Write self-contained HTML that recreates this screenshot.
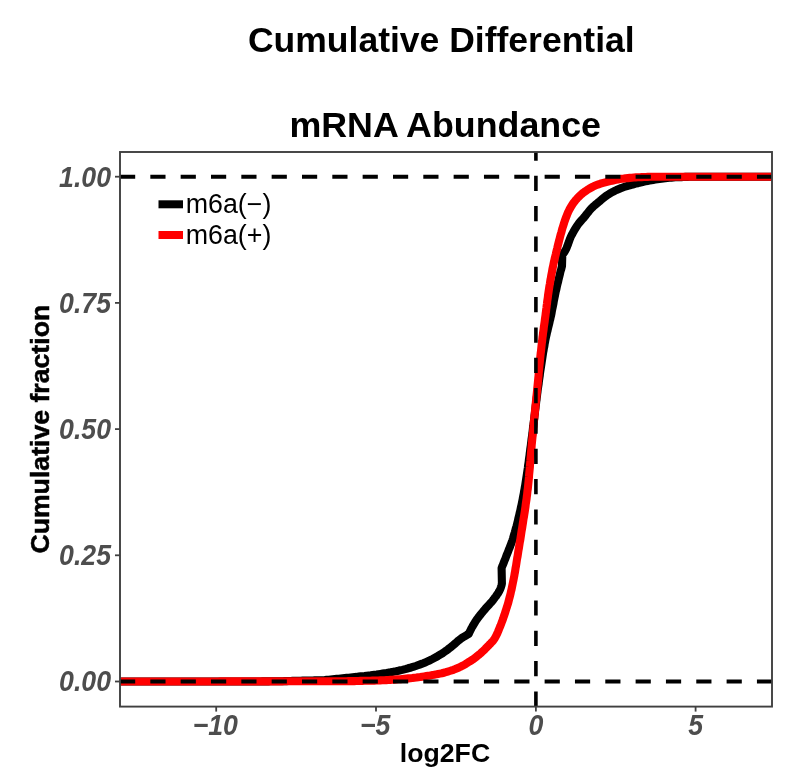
<!DOCTYPE html>
<html><head><meta charset="utf-8"><title>Cumulative Differential mRNA Abundance</title>
<style>
html,body{margin:0;padding:0;background:#fff;}
svg{display:block;}
text{font-family:"Liberation Sans",Arial,Helvetica,sans-serif;}
.ttl{font-weight:bold;font-size:35.5px;fill:#000;text-anchor:middle;}
.axt{font-weight:bold;font-size:26.67px;fill:#000;text-anchor:middle;}
.tk{font-weight:bold;font-style:italic;font-size:26.67px;fill:#4d4d4d;}
.lg{font-size:26.8px;fill:#000;}
</style></head><body>
<svg width="800" height="783" viewBox="0 0 800 783">
<rect x="0" y="0" width="800" height="783" fill="#fff"/>
<text class="ttl" x="441.3" y="51.6">Cumulative Differential</text>
<text class="ttl" x="445.2" y="137.2" style="font-size:35.8px">mRNA Abundance</text>
<clipPath id="cp"><rect x="120" y="152.0" width="652" height="554.6"/></clipPath>
<g clip-path="url(#cp)" fill="none">
<path d="M120.0,681.5 L122.0,681.5 L124.0,681.5 L126.0,681.5 L128.0,681.5 L130.0,681.5 L132.0,681.5 L134.1,681.5 L136.1,681.5 L138.1,681.5 L140.1,681.5 L142.1,681.5 L144.1,681.5 L146.1,681.5 L148.1,681.5 L150.1,681.5 L152.1,681.5 L154.1,681.5 L156.1,681.5 L158.1,681.5 L160.1,681.5 L162.2,681.5 L164.2,681.5 L166.2,681.5 L168.2,681.5 L170.2,681.5 L172.2,681.5 L174.2,681.5 L176.2,681.5 L178.2,681.5 L180.2,681.5 L182.2,681.5 L184.2,681.5 L186.2,681.5 L188.3,681.5 L190.3,681.5 L192.3,681.5 L194.3,681.5 L196.3,681.5 L198.3,681.5 L200.3,681.5 L202.3,681.5 L204.3,681.5 L206.3,681.5 L208.3,681.5 L210.3,681.5 L212.3,681.5 L214.3,681.5 L216.4,681.5 L218.4,681.5 L220.4,681.5 L222.4,681.5 L224.4,681.5 L226.4,681.5 L228.4,681.5 L230.4,681.5 L232.4,681.5 L234.4,681.5 L236.4,681.5 L238.4,681.5 L240.4,681.5 L242.4,681.5 L244.5,681.5 L246.5,681.5 L248.5,681.5 L250.5,681.5 L252.5,681.5 L254.5,681.5 L256.5,681.5 L258.5,681.5 L260.5,681.5 L262.5,681.4 L264.5,681.4 L266.5,681.4 L268.5,681.4 L270.6,681.3 L272.6,681.3 L274.6,681.3 L276.6,681.3 L278.6,681.2 L280.6,681.2 L282.6,681.2 L284.6,681.1 L286.6,681.1 L288.6,681.0 L290.6,681.0 L292.6,680.9 L294.6,680.8 L296.6,680.8 L298.6,680.7 L300.7,680.7 L302.7,680.6 L304.7,680.6 L306.7,680.6 L308.7,680.5 L310.7,680.5 L312.7,680.5 L314.7,680.4 L316.7,680.4 L318.7,680.3 L320.7,680.3 L322.7,680.2 L324.7,680.1 L326.7,679.9 L328.7,679.7 L330.7,679.5 L332.7,679.3 L334.7,679.1 L336.7,678.9 L338.7,678.7 L340.7,678.5 L342.7,678.3 L344.7,678.1 L346.7,677.9 L348.7,677.7 L350.7,677.5 L352.7,677.3 L354.7,677.1 L356.7,676.9 L358.7,676.6 L360.7,676.4 L362.7,676.2 L364.7,676.0 L366.7,675.7 L368.7,675.5 L370.7,675.3 L372.7,675.0 L374.6,674.7 L376.6,674.5 L378.6,674.2 L380.6,673.9 L382.6,673.6 L384.6,673.3 L386.6,673.0 L388.5,672.6 L390.5,672.3 L392.5,671.9 L394.5,671.6 L396.4,671.2 L398.4,670.8 L400.4,670.3 L402.3,669.9 L404.3,669.4 L406.2,668.9 L408.1,668.3 L410.1,667.8 L412.0,667.2 L413.9,666.6 L415.8,666.0 L417.7,665.3 L419.6,664.6 L421.5,663.9 L423.3,663.2 L425.2,662.4 L427.0,661.6 L428.9,660.8 L430.7,659.9 L432.5,659.0 L434.3,658.0 L436.0,657.1 L437.8,656.1 L439.5,655.1 L441.2,654.1 L442.9,653.0 L444.6,651.8 L446.2,650.7 L447.8,649.5 L449.4,648.2 L451.0,647.0 L452.6,645.7 L454.1,644.4 L455.6,643.1 L457.1,641.7 L458.6,640.4 L460.2,639.2 L461.8,638.0 L463.5,636.9 L465.2,635.9 L466.9,634.9 L468.7,633.9 L469.6,632.0 L470.5,630.2 L471.4,628.4 L472.4,626.6 L473.4,624.9 L474.5,623.1 L475.5,621.4 L476.6,619.7 L477.8,618.1 L479.0,616.5 L480.3,614.9 L481.6,613.3 L482.9,611.7 L484.2,610.2 L485.5,608.6 L486.9,607.1 L488.3,605.6 L489.6,604.1 L491.0,602.6 L492.3,601.1 L493.5,599.5 L494.7,597.8 L496.0,596.2 L497.1,594.5 L498.3,592.8 L499.3,591.0 L500.2,589.2 L500.9,587.3 L501.5,585.4 L501.9,583.4 L501.6,568.1 L502.3,566.2 L503.1,564.4 L503.8,562.5 L504.5,560.6 L505.3,558.8 L506.0,556.9 L506.7,555.0 L507.5,553.2 L508.2,551.3 L508.9,549.4 L509.7,547.6 L510.4,545.7 L511.1,543.8 L511.8,541.9 L512.5,540.1 L513.1,538.1 L513.6,536.2 L514.2,534.3 L514.8,532.4 L515.3,530.5 L515.8,528.5 L516.4,526.6 L516.9,524.7 L517.4,522.7 L517.9,520.8 L518.3,518.8 L518.8,516.8 L519.3,514.9 L519.7,512.9 L520.2,511.0 L520.6,509.0 L521.0,507.0 L521.5,505.1 L521.9,503.1 L522.3,501.1 L522.7,499.2 L523.0,497.2 L523.4,495.2 L523.8,493.3 L524.1,491.3 L524.5,489.3 L524.8,487.3 L525.2,485.4 L525.5,483.4 L525.8,481.4 L526.1,479.4 L526.4,477.5 L526.7,475.5 L527.0,473.5 L527.3,471.5 L527.6,469.5 L527.9,467.5 L528.1,465.5 L528.4,463.6 L528.7,461.6 L528.9,459.6 L529.2,457.6 L529.5,455.6 L529.7,453.6 L530.0,451.6 L530.2,449.6 L530.5,447.6 L530.8,445.6 L531.0,443.6 L531.3,441.7 L531.5,439.7 L531.8,437.7 L532.1,435.7 L532.3,433.7 L532.6,431.7 L532.8,429.7 L533.0,427.7 L533.3,425.7 L533.5,423.8 L533.8,421.8 L534.0,419.8 L534.3,417.8 L534.5,415.8 L534.8,413.8 L535.0,411.8 L535.2,409.8 L535.5,407.8 L535.7,405.8 L536.0,403.8 L536.2,401.8 L536.5,399.9 L536.7,397.9 L537.0,395.9 L537.2,393.9 L537.5,391.9 L537.7,389.9 L538.0,387.9 L538.3,385.9 L538.6,384.0 L538.8,382.0 L539.1,380.0 L539.4,378.0 L539.7,376.0 L539.9,374.0 L540.2,372.0 L540.5,370.0 L540.8,368.1 L541.1,366.1 L541.4,364.1 L541.7,362.1 L542.0,360.1 L542.3,358.1 L542.6,356.1 L542.9,354.2 L543.2,352.2 L543.6,350.2 L543.9,348.2 L544.3,346.3 L544.6,344.3 L545.0,342.3 L545.3,340.4 L545.7,338.4 L546.1,336.4 L546.6,334.5 L547.0,332.5 L547.5,330.6 L547.9,328.6 L548.4,326.7 L548.9,324.7 L549.4,322.8 L549.8,320.8 L550.3,318.9 L550.7,316.9 L551.2,314.9 L551.6,313.0 L551.9,311.0 L552.3,309.0 L552.7,307.1 L553.1,305.1 L553.5,303.1 L553.8,301.2 L554.2,299.2 L554.6,297.2 L555.0,295.3 L555.4,293.3 L555.8,291.3 L556.3,289.4 L556.7,287.4 L557.1,285.5 L557.6,283.5 L558.1,281.6 L558.5,279.6 L559.0,277.7 L559.5,275.7 L560.0,273.8 L560.4,271.8 L561.0,269.9 L561.5,267.9 L562.0,266.0 L562.3,255.0 L563.5,253.4 L564.6,251.7 L565.6,250.0 L566.5,248.2 L567.2,246.3 L568.0,244.4 L568.6,242.5 L569.3,240.6 L570.0,238.7 L570.8,236.8 L571.7,235.0 L572.6,233.3 L573.6,231.5 L574.6,229.7 L575.7,228.0 L576.8,226.3 L577.9,224.6 L579.1,223.0 L580.4,221.5 L581.7,220.0 L583.1,218.5 L584.4,217.0 L585.7,215.4 L586.9,213.8 L588.2,212.2 L589.4,210.6 L590.7,209.1 L592.1,207.7 L593.6,206.3 L595.1,205.0 L596.7,203.7 L598.2,202.4 L599.8,201.1 L601.3,199.8 L602.8,198.4 L604.4,197.2 L606.0,196.0 L607.7,194.9 L609.4,193.8 L611.1,192.8 L612.9,191.8 L614.7,190.9 L616.5,190.0 L618.3,189.2 L620.2,188.4 L622.1,187.7 L624.0,187.0 L625.9,186.4 L627.8,185.8 L629.8,185.3 L631.7,184.7 L633.7,184.2 L635.6,183.7 L637.6,183.2 L639.5,182.7 L641.5,182.3 L643.4,181.8 L645.4,181.4 L647.4,181.0 L649.4,180.6 L651.3,180.2 L653.3,179.9 L655.3,179.6 L657.3,179.3 L659.3,179.0 L661.3,178.7 L663.3,178.4 L665.3,178.2 L667.3,178.0 L669.3,177.8 L671.3,177.7 L673.3,177.5 L675.3,177.3 L677.3,177.2 L679.3,177.1 L681.4,177.1 L683.4,177.0 L685.4,176.9 L687.4,176.9 L689.4,176.8 L691.4,176.8 L693.4,176.8 L695.5,176.7 L697.5,176.7 L699.5,176.7 L701.5,176.7 L703.5,176.7 L705.5,176.7 L707.5,176.7 L709.6,176.7 L711.6,176.7 L713.6,176.7 L715.6,176.7 L717.6,176.7 L719.6,176.7 L721.6,176.7 L723.7,176.7 L725.7,176.7 L727.7,176.7 L729.7,176.7 L731.7,176.7 L733.7,176.7 L735.7,176.7 L737.8,176.7 L739.8,176.7 L741.8,176.7 L743.8,176.7 L745.8,176.7 L747.8,176.7 L749.8,176.7 L751.9,176.7 L753.9,176.7 L755.9,176.7 L757.9,176.7 L759.9,176.7 L761.9,176.7 L763.9,176.7 L766.0,176.7 L768.0,176.7 L770.0,176.7 L772.0,176.7" stroke="#000" stroke-width="8.1" stroke-linejoin="round"/>
<path d="M120.0,681.5 L122.0,681.5 L124.0,681.5 L126.0,681.5 L128.0,681.5 L130.0,681.5 L132.0,681.5 L134.0,681.5 L136.0,681.5 L138.0,681.5 L140.0,681.5 L142.0,681.5 L144.0,681.5 L146.0,681.5 L148.0,681.5 L150.0,681.5 L152.0,681.5 L154.1,681.5 L156.1,681.5 L158.1,681.5 L160.1,681.5 L162.1,681.5 L164.1,681.5 L166.1,681.5 L168.1,681.5 L170.1,681.5 L172.1,681.5 L174.1,681.5 L176.1,681.5 L178.1,681.5 L180.1,681.5 L182.1,681.5 L184.1,681.5 L186.1,681.5 L188.1,681.5 L190.1,681.5 L192.1,681.5 L194.1,681.5 L196.1,681.5 L198.1,681.5 L200.1,681.5 L202.1,681.5 L204.1,681.5 L206.1,681.5 L208.1,681.5 L210.1,681.5 L212.1,681.5 L214.1,681.5 L216.1,681.5 L218.1,681.5 L220.1,681.4 L222.1,681.4 L224.1,681.4 L226.2,681.4 L228.2,681.4 L230.2,681.4 L232.2,681.4 L234.2,681.4 L236.2,681.4 L238.2,681.4 L240.2,681.4 L242.2,681.4 L244.2,681.4 L246.2,681.4 L248.2,681.4 L250.2,681.4 L252.2,681.4 L254.2,681.4 L256.2,681.4 L258.2,681.4 L260.2,681.4 L262.2,681.4 L264.2,681.4 L266.2,681.4 L268.2,681.4 L270.2,681.4 L272.2,681.4 L274.2,681.4 L276.2,681.4 L278.2,681.4 L280.2,681.4 L282.2,681.4 L284.2,681.3 L286.2,681.3 L288.2,681.3 L290.2,681.3 L292.2,681.3 L294.2,681.3 L296.2,681.3 L298.2,681.3 L300.2,681.3 L302.3,681.3 L304.3,681.3 L306.3,681.3 L308.3,681.3 L310.3,681.3 L312.3,681.3 L314.3,681.3 L316.3,681.3 L318.3,681.3 L320.3,681.3 L322.3,681.3 L324.3,681.2 L326.3,681.2 L328.3,681.2 L330.3,681.2 L332.3,681.2 L334.3,681.2 L336.3,681.2 L338.3,681.2 L340.3,681.2 L342.3,681.2 L344.3,681.2 L346.3,681.2 L348.3,681.1 L350.3,681.1 L352.3,681.1 L354.3,681.1 L356.3,681.0 L358.3,681.0 L360.3,680.9 L362.3,680.9 L364.3,680.8 L366.3,680.8 L368.3,680.7 L370.3,680.7 L372.3,680.6 L374.3,680.6 L376.3,680.5 L378.3,680.5 L380.3,680.4 L382.3,680.3 L384.3,680.2 L386.3,680.1 L388.3,680.0 L390.3,679.9 L392.3,679.8 L394.3,679.6 L396.3,679.5 L398.3,679.3 L400.3,679.2 L402.3,679.0 L404.3,678.8 L406.3,678.6 L408.3,678.4 L410.3,678.2 L412.3,678.0 L414.3,677.7 L416.3,677.5 L418.3,677.2 L420.2,677.0 L422.2,676.7 L424.2,676.4 L426.2,676.1 L428.2,675.8 L430.2,675.5 L432.1,675.1 L434.1,674.8 L436.1,674.4 L438.0,674.0 L440.0,673.6 L441.9,673.2 L443.9,672.7 L445.8,672.2 L447.8,671.6 L449.7,671.0 L451.6,670.4 L453.5,669.8 L455.3,669.1 L457.2,668.3 L459.0,667.5 L460.8,666.6 L462.6,665.7 L464.4,664.7 L466.1,663.7 L467.8,662.6 L469.5,661.6 L471.2,660.5 L472.9,659.4 L474.5,658.2 L476.1,657.0 L477.7,655.7 L479.2,654.5 L480.7,653.2 L482.2,651.8 L483.7,650.5 L485.1,649.1 L486.5,647.6 L487.9,646.2 L489.3,644.7 L490.7,643.3 L492.1,641.8 L493.4,640.3 L494.5,638.7 L495.5,637.0 L496.4,635.2 L497.3,633.4 L498.1,631.5 L498.8,629.7 L499.6,627.8 L500.4,625.9 L501.1,624.1 L501.8,622.2 L502.5,620.3 L503.2,618.4 L503.8,616.5 L504.5,614.6 L505.1,612.7 L505.7,610.8 L506.3,608.9 L506.9,607.0 L507.5,605.1 L508.1,603.2 L508.6,601.2 L509.1,599.3 L509.6,597.4 L510.1,595.4 L510.6,593.5 L511.0,591.5 L511.5,589.6 L511.9,587.6 L512.3,585.7 L512.7,583.7 L513.1,581.7 L513.5,579.8 L513.9,577.8 L514.3,575.8 L514.6,573.9 L515.0,571.9 L515.3,569.9 L515.6,567.9 L516.0,566.0 L516.3,564.0 L516.6,562.0 L516.9,560.0 L517.2,558.1 L517.6,556.1 L517.9,554.1 L518.2,552.1 L518.5,550.1 L518.9,548.2 L519.2,546.2 L519.5,544.2 L519.8,542.2 L520.2,540.3 L520.5,538.3 L520.8,536.3 L521.1,534.3 L521.4,532.4 L521.7,530.4 L522.1,528.4 L522.4,526.4 L522.7,524.4 L523.0,522.5 L523.3,520.5 L523.6,518.5 L524.0,516.5 L524.3,514.5 L524.6,512.6 L524.9,510.6 L525.2,508.6 L525.5,506.6 L525.7,504.6 L526.0,502.7 L526.3,500.7 L526.6,498.7 L526.8,496.7 L527.1,494.7 L527.3,492.7 L527.5,490.7 L527.8,488.8 L528.0,486.8 L528.2,484.8 L528.4,482.8 L528.6,480.8 L528.8,478.8 L529.0,476.8 L529.1,474.8 L529.3,472.8 L529.5,470.8 L529.7,468.8 L529.9,466.8 L530.0,464.8 L530.2,462.8 L530.4,460.8 L530.5,458.9 L530.7,456.9 L530.9,454.9 L531.0,452.9 L531.2,450.9 L531.4,448.9 L531.6,446.9 L531.7,444.9 L531.9,442.9 L532.1,440.9 L532.3,438.9 L532.5,436.9 L532.7,434.9 L532.9,432.9 L533.1,430.9 L533.3,428.9 L533.5,426.9 L533.6,424.9 L533.8,422.9 L534.0,421.0 L534.2,419.0 L534.4,417.0 L534.6,415.0 L534.8,413.0 L535.0,411.0 L535.2,409.0 L535.4,407.0 L535.6,405.0 L535.8,403.0 L536.0,401.0 L536.2,399.0 L536.4,397.0 L536.6,395.0 L536.8,393.1 L537.0,391.1 L537.2,389.1 L537.4,387.1 L537.6,385.1 L537.8,383.1 L538.0,381.1 L538.2,379.1 L538.4,377.1 L538.6,375.1 L538.7,373.1 L538.9,371.1 L539.1,369.1 L539.3,367.1 L539.5,365.1 L539.7,363.2 L539.9,361.2 L540.1,359.2 L540.3,357.2 L540.5,355.2 L540.7,353.2 L541.0,351.2 L541.2,349.2 L541.4,347.2 L541.6,345.2 L541.8,343.2 L542.1,341.2 L542.3,339.3 L542.5,337.3 L542.8,335.3 L543.0,333.3 L543.3,331.3 L543.6,329.3 L543.8,327.3 L544.1,325.4 L544.4,323.4 L544.7,321.4 L544.9,319.4 L545.2,317.4 L545.5,315.4 L545.7,313.4 L546.0,311.5 L546.2,309.5 L546.5,307.5 L546.7,305.5 L547.0,303.5 L547.2,301.5 L547.5,299.5 L547.8,297.6 L548.0,295.6 L548.3,293.6 L548.6,291.6 L548.9,289.6 L549.2,287.7 L549.5,285.7 L549.9,283.7 L550.2,281.7 L550.5,279.7 L550.9,277.8 L551.2,275.8 L551.6,273.8 L552.0,271.9 L552.3,269.9 L552.7,267.9 L553.1,266.0 L553.5,264.0 L553.9,262.0 L554.4,260.1 L554.8,258.1 L555.3,256.2 L555.8,254.2 L556.2,252.3 L556.7,250.4 L557.2,248.4 L557.6,246.5 L558.1,244.5 L558.6,242.6 L559.1,240.6 L559.6,238.7 L560.1,236.8 L560.6,234.8 L561.2,232.9 L561.7,231.0 L562.2,229.0 L562.8,227.1 L563.4,225.2 L564.0,223.3 L564.6,221.4 L565.3,219.4 L566.0,217.5 L566.7,215.7 L567.4,213.8 L568.2,212.0 L569.1,210.2 L570.0,208.5 L571.0,206.7 L572.1,205.0 L573.2,203.3 L574.4,201.7 L575.7,200.1 L577.0,198.7 L578.3,197.2 L579.8,195.8 L581.3,194.4 L582.8,193.1 L584.4,191.9 L586.0,190.8 L587.7,189.7 L589.4,188.6 L591.2,187.6 L593.0,186.6 L594.8,185.8 L596.6,185.1 L598.5,184.4 L600.4,183.7 L602.3,183.1 L604.2,182.6 L606.2,182.1 L608.1,181.6 L610.1,181.1 L612.0,180.7 L614.0,180.2 L616.0,179.8 L617.9,179.5 L619.9,179.1 L621.9,178.8 L623.9,178.6 L625.8,178.3 L627.8,178.1 L629.8,177.9 L631.8,177.7 L633.8,177.5 L635.8,177.4 L637.8,177.3 L639.8,177.2 L641.8,177.1 L643.8,177.0 L645.8,177.0 L647.8,176.9 L649.8,176.8 L651.8,176.8 L653.8,176.8 L655.8,176.7 L657.8,176.7 L659.8,176.7 L661.9,176.7 L663.9,176.7 L665.9,176.7 L667.9,176.7 L669.9,176.7 L671.9,176.7 L673.9,176.7 L675.9,176.7 L677.9,176.7 L679.9,176.7 L681.9,176.7 L683.9,176.7 L685.9,176.7 L687.9,176.7 L689.9,176.7 L691.9,176.7 L693.9,176.7 L695.9,176.7 L697.9,176.7 L699.9,176.7 L701.9,176.7 L703.9,176.7 L705.9,176.7 L707.9,176.7 L709.9,176.7 L711.9,176.7 L713.9,176.7 L715.9,176.7 L717.9,176.7 L719.9,176.7 L721.9,176.7 L723.9,176.7 L725.9,176.7 L727.9,176.7 L729.9,176.7 L731.9,176.7 L733.9,176.7 L736.0,176.7 L738.0,176.7 L740.0,176.7 L742.0,176.7 L744.0,176.7 L746.0,176.7 L748.0,176.7 L750.0,176.7 L752.0,176.7 L754.0,176.7 L756.0,176.7 L758.0,176.7 L760.0,176.7 L762.0,176.7 L764.0,176.7 L766.0,176.7 L768.0,176.7 L770.0,176.7 L772.0,176.7" stroke="#ff0000" stroke-width="8.1" stroke-linejoin="round"/>
<line x1="120" y1="176.7" x2="772" y2="176.7" stroke="#000" stroke-width="3.9" stroke-dasharray="15.2 15.13"/>
<line x1="120" y1="681.5" x2="772" y2="681.5" stroke="#000" stroke-width="3.9" stroke-dasharray="15.2 15.13"/>
<line x1="535.9" y1="706.6" x2="535.9" y2="152.0" stroke="#000" stroke-width="3.6" stroke-dasharray="15.2 15.13"/>
</g>
<rect x="120" y="152.0" width="652" height="554.6" fill="none" stroke="#404040" stroke-width="1.9"/>
<g stroke="#404040" stroke-width="1.8">
<line x1="115" y1="176.7" x2="120" y2="176.7"/>
<line x1="115" y1="302.9" x2="120" y2="302.9"/>
<line x1="115" y1="429.1" x2="120" y2="429.1"/>
<line x1="115" y1="555.3" x2="120" y2="555.3"/>
<line x1="115" y1="681.5" x2="120" y2="681.5"/>
<line x1="216.2" y1="706.6" x2="216.2" y2="711.6"/>
<line x1="376.0" y1="706.6" x2="376.0" y2="711.6"/>
<line x1="535.9" y1="706.6" x2="535.9" y2="711.6"/>
<line x1="695.6" y1="706.6" x2="695.6" y2="711.6"/>
</g>
<g class="tk" text-anchor="end">
<text transform="translate(111,186.6) scale(1,1.08)">1.00</text>
<text transform="translate(111,312.8) scale(1,1.08)">0.75</text>
<text transform="translate(111,439.0) scale(1,1.08)">0.50</text>
<text transform="translate(111,565.2) scale(1,1.08)">0.25</text>
<text transform="translate(111,691.4) scale(1,1.08)">0.00</text>
</g>
<g class="tk" text-anchor="middle">
<text transform="translate(215.3,735.0) scale(1,1.08)">−10</text>
<text transform="translate(375.1,735.0) scale(1,1.08)">−5</text>
<text transform="translate(535.9,735.0) scale(1,1.08)">0</text>
<text transform="translate(695.6,735.0) scale(1,1.08)">5</text>
</g>
<text class="axt" x="445" y="762">log2FC</text>
<text class="axt" transform="translate(48.7,429.2) rotate(-90)" stroke="#000" stroke-width="0.5">Cumulative fraction</text>
<line x1="158.5" y1="204.3" x2="183" y2="204.3" stroke="#000" stroke-width="8"/>
<line x1="158.5" y1="235" x2="183" y2="235" stroke="#ff0000" stroke-width="8"/>
<text class="lg" x="185.7" y="213.4">m6a(−)</text>
<text class="lg" x="185.7" y="243.6">m6a(+)</text>
</svg>
</body></html>
